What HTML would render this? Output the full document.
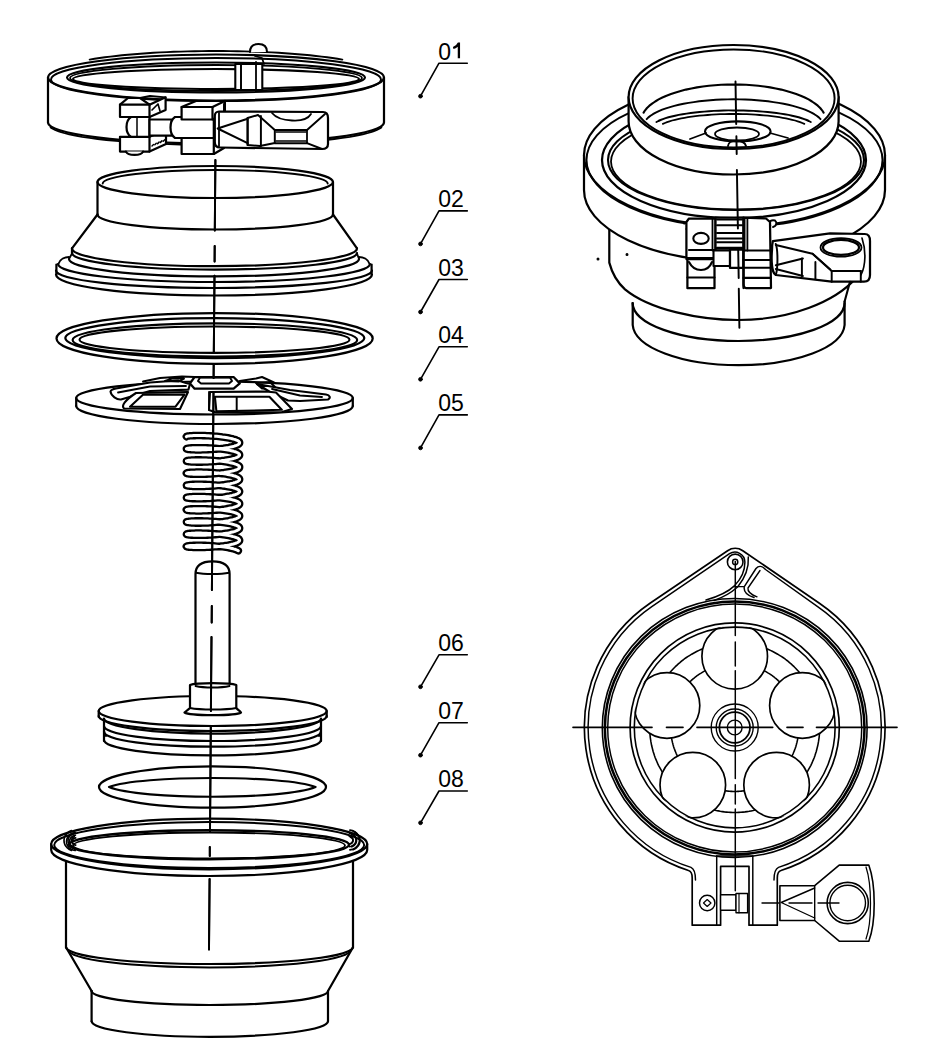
<!DOCTYPE html>
<html><head><meta charset="utf-8"><style>
html,body{margin:0;padding:0;background:#fff;}
svg{display:block;}
text{font-family:"Liberation Sans",sans-serif;fill:#000;stroke:none;}
</style></head><body>
<svg width="931" height="1060" viewBox="0 0 931 1060">
<rect width="931" height="1060" fill="#fff"/>
<g fill="none" stroke="#000" stroke-width="2.0" stroke-linejoin="round" stroke-linecap="round">
<text x="438.2" y="59.5" font-size="23">0</text>
<path d="M458.9,42.5 L458.9,58.3 M458.9,43.0 C457.5,46.5 455,47.5 453.2,48.0" fill="none" stroke-width="2.30" stroke-linecap="butt"/>
<path d="M420.5,96.2 L439.0,63.2 L467.3,63.2" fill="none" stroke-width="1.60" />
<circle cx="420.5" cy="96.2" r="1.9" fill="#000" stroke-width="0.80"/>
<text x="438.2" y="207.2" font-size="23">02</text>
<path d="M420.5,243.9 L439.0,210.9 L467.3,210.9" fill="none" stroke-width="1.60" />
<circle cx="420.5" cy="243.9" r="1.9" fill="#000" stroke-width="0.80"/>
<text x="438.2" y="275.8" font-size="23">03</text>
<path d="M420.5,312.0 L439.0,279.5 L467.3,279.5" fill="none" stroke-width="1.60" />
<circle cx="420.5" cy="312" r="1.9" fill="#000" stroke-width="0.80"/>
<text x="438.2" y="343.1" font-size="23">04</text>
<path d="M420.5,379.3 L439.0,346.8 L467.3,346.8" fill="none" stroke-width="1.60" />
<circle cx="420.5" cy="379.3" r="1.9" fill="#000" stroke-width="0.80"/>
<text x="438.2" y="411.2" font-size="23">05</text>
<path d="M420.5,447.9 L439.0,414.9 L467.3,414.9" fill="none" stroke-width="1.60" />
<circle cx="420.5" cy="447.9" r="1.9" fill="#000" stroke-width="0.80"/>
<text x="438.2" y="651.1" font-size="23">06</text>
<path d="M420.5,686.8 L439.0,654.8 L467.3,654.8" fill="none" stroke-width="1.60" />
<circle cx="420.5" cy="686.8" r="1.9" fill="#000" stroke-width="0.80"/>
<text x="438.2" y="719.0" font-size="23">07</text>
<path d="M420.5,755.2 L439.0,722.7 L467.3,722.7" fill="none" stroke-width="1.60" />
<circle cx="420.5" cy="755.2" r="1.9" fill="#000" stroke-width="0.80"/>
<text x="438.2" y="787.3" font-size="23">08</text>
<path d="M420.5,822.8 L439.0,791.0 L467.3,791.0" fill="none" stroke-width="1.60" />
<circle cx="420.5" cy="822.8" r="1.9" fill="#000" stroke-width="0.80"/>
<ellipse cx="216" cy="77.5" rx="168" ry="23" fill="#fff"  stroke-width="2.22"/>
<ellipse cx="216" cy="79.5" rx="165" ry="21.5" fill="none" stroke-width="1.95" />
<ellipse cx="216" cy="77.5" rx="149" ry="15" fill="none" stroke-width="2.10" />
<ellipse cx="216" cy="78" rx="146" ry="13" fill="none" stroke-width="1.80" />
<ellipse cx="216" cy="79" rx="143" ry="10" fill="none" stroke-width="2.10" />
<line x1="48" y1="77.5" x2="48" y2="122.6"  stroke-width="2.22"/>
<line x1="384" y1="77.5" x2="384" y2="122.6"  stroke-width="2.22"/>
<path d="M48,122.6 A168,21 0 0 0 384,122.6"  stroke-width="2.22"/>
<path d="M381.4,127.4 L379.3,128.8 L376.4,130.2 L372.6,131.6 L368.1,133.0 L362.8,134.3 L356.7,135.5 L349.9,136.8 L342.4,137.9 L334.3,139.0 L325.6,140.0 L316.3,140.9 L306.5,141.7 L296.2,142.5 L285.5,143.1 L274.5,143.7 L263.2,144.2 L251.6,144.5 L239.8,144.8 L227.9,144.9 L216.0,145.0 L204.1,144.9 L192.2,144.8 L180.4,144.5 L168.8,144.2 L157.5,143.7 L146.5,143.1 L135.8,142.5 L125.5,141.7 L115.7,140.9 L106.4,140.0 L97.7,139.0 L89.6,137.9 L82.1,136.8 L75.3,135.5 L69.2,134.3 L63.9,133.0 L59.4,131.6 L55.6,130.2 L52.7,128.8 L50.6,127.4" fill="none" stroke-width="1.80" />
<path d="M89.7,59.6 L94.5,58.8 L99.6,58.0 L104.9,57.3 L110.4,56.6 L116.1,56.0 L121.9,55.3 L127.9,54.8 L134.1,54.2 L140.4,53.7 L146.9,53.2 L153.4,52.8 L160.1,52.4 L166.9,52.1 L173.7,51.8 L180.7,51.6 L187.6,51.4 L194.7,51.2 L201.8,51.1 L208.9,51.0 L216.0,51.0 L223.1,51.0 L230.2,51.1 L237.3,51.2 L244.4,51.4 L251.3,51.6 L258.3,51.8 L265.1,52.1 L271.9,52.4 L278.6,52.8 L285.1,53.2 L291.6,53.7 L297.9,54.2 L304.1,54.8 L310.1,55.3 L315.9,56.0 L321.6,56.6 L327.1,57.3 L332.4,58.0 L337.5,58.8 L342.3,59.6" fill="none" stroke-width="1.95" />
<path d="M250,52 C250,46 254,44 258.5,44 C263,44 267,46 267,52" fill="#fff" stroke-width="2.10" />
<rect x="235.3" y="64" width="27" height="26" fill="#fff" stroke-width="2.10"/>
<line x1="241" y1="64" x2="241" y2="90" stroke-width="1.95" />
<line x1="256" y1="62" x2="256" y2="90" stroke-width="1.80" />
<path d="M255,56 L262,58 L264,64" fill="none" stroke-width="1.80" />
<path d="M120,136.8 L149.5,136.8 L166,130 L166,144 L149.5,151.6 L120,151.6 Z" fill="#fff"  stroke-width="2.22"/>
<line x1="149.5" y1="136.8" x2="149.5" y2="151.6"  stroke-width="2.22"/>
<path d="M126,151.6 C128,156 141,156 143,151.6" fill="#fff"  stroke-width="2.22"/>
<line x1="152.0" y1="146.0" x2="153.5" y2="144.5" stroke-width="1.50" />
<line x1="154.8" y1="144.8" x2="156.3" y2="143.3" stroke-width="1.50" />
<line x1="157.6" y1="143.6" x2="159.1" y2="142.1" stroke-width="1.50" />
<line x1="160.4" y1="142.4" x2="161.9" y2="140.9" stroke-width="1.50" />
<line x1="163.2" y1="141.2" x2="164.7" y2="139.7" stroke-width="1.50" />
<path d="M131,117 L149.5,117 L149.5,136.8 L131,136.8 C125,133 125,121 131,117 Z" fill="#fff"  stroke-width="2.22"/>
<line x1="137" y1="117" x2="137" y2="136.8" stroke-width="1.50" />
<rect x="149.5" y="119.5" width="22.3" height="16.1" fill="#fff" stroke-width="2.22"/>
<path d="M120,104.7 L128,98 L140,98 L149.5,104.7 L165.6,97.3 L165.6,110 L149.5,117 L120,117 Z" fill="#fff"  stroke-width="2.22"/>
<line x1="120" y1="104.7" x2="149.5" y2="104.7"  stroke-width="2.22"/>
<line x1="149.5" y1="104.7" x2="149.5" y2="117"  stroke-width="2.22"/>
<path d="M140,98 L150,96 L165.6,97.3" fill="none" stroke-width="1.80" />
<path d="M152,110 L158,104 L160,111" fill="none" stroke-width="1.65" />
<path d="M175,117 L213.8,117 L213.8,138 L175,138 C169,134 169,121 175,117 Z" fill="#fff"  stroke-width="2.22"/>
<path d="M181.6,107 L196,101 L224.9,101 L224.9,113 L212.5,119.5 L181.6,119.5 Z" fill="#fff"  stroke-width="2.22"/>
<line x1="181.6" y1="107" x2="212.5" y2="107"  stroke-width="2.22"/>
<line x1="212.5" y1="107" x2="224.9" y2="101"  stroke-width="2.22"/>
<line x1="212.5" y1="107" x2="212.5" y2="119.5"  stroke-width="2.22"/>
<path d="M181.6,138 L213.8,138 L224,134 L224,148 L213.8,154 L181.6,154 Z" fill="#fff"  stroke-width="2.22"/>
<line x1="213.8" y1="138" x2="213.8" y2="154"  stroke-width="2.22"/>
<path d="M224,104 L224,111" fill="none" stroke-width="1.95" />
<path d="M219,111.5 L323,112 C327,112 328,115 328,118 L328,144 C328,147 326,149 322,149 L220,147.5 C216.5,147.5 214.8,145 214.8,142 L214.8,116 C214.8,113.5 216.5,111.5 219,111.5 Z" fill="#fff"  stroke-width="2.22"/>
<path d="M217.6,128.5 L247.6,118.7 M217.6,128.5 L247.6,143.2" fill="none" stroke-width="1.95" />
<line x1="219" y1="113" x2="219" y2="146" stroke-width="1.80" />
<path d="M247.6,118 L258,115 L274.8,130 L274.8,143 L260,146 L247.6,145 Z" fill="none" stroke-width="1.95" />
<line x1="247.6" y1="118" x2="247.6" y2="145" stroke-width="1.95" />
<line x1="260.9" y1="116" x2="260.9" y2="146" stroke-width="1.95" />
<line x1="274.8" y1="130" x2="307" y2="130" stroke-width="1.95" />
<line x1="274.8" y1="143.2" x2="307" y2="143.2" stroke-width="1.95" />
<line x1="276" y1="132" x2="306" y2="132" stroke-width="1.50" />
<line x1="276" y1="141" x2="306" y2="141" stroke-width="1.50" />
<path d="M307,130 L325,114 M307,143.2 L322,149" fill="none" stroke-width="1.95" />
<line x1="307" y1="130" x2="307" y2="143.2" stroke-width="1.80" />
<path d="M272,113 C276,118 282,120 292,120.5 C300,121 308,119 311,114" fill="none" stroke-width="1.80" />
<ellipse cx="215.2" cy="182" rx="117.75" ry="16" fill="#fff"  stroke-width="2.22"/>
<path d="M102.69999999999999,183.5 A112.5,13.5 0 0 1 327.7,183.5" stroke-width="1.95" />
<line x1="97.5" y1="182" x2="97.5" y2="214.5"  stroke-width="2.22"/>
<line x1="333" y1="182" x2="333" y2="214.5"  stroke-width="2.22"/>
<path d="M97.44999999999999,214.5 A117.75,15 0 0 0 332.95,214.5"  stroke-width="2.22"/>
<line x1="97.5" y1="214.5" x2="72" y2="248.4"  stroke-width="2.22"/>
<line x1="333" y1="214.5" x2="357" y2="248.4"  stroke-width="2.22"/>
<path d="M72.0,248.4 A142.5,17.8 0 0 0 357.0,248.4"  stroke-width="2.22"/>
<path d="M72.0,253 A142.5,16.6 0 0 0 357.0,253"  stroke-width="2.22"/>
<line x1="72" y1="248.4" x2="72" y2="253"  stroke-width="2.22"/>
<path d="M69,259 A145,17.4 0 0 0 359,259"  stroke-width="2.22"/>
<line x1="69" y1="259" x2="72" y2="253.5" stroke-width="1.80" />
<line x1="359" y1="259" x2="357" y2="253.5" stroke-width="1.80" />
<path d="M58.4,264 C60,259 65,257 69,257" fill="none" stroke-width="1.95" />
<path d="M369.6,264 C368,259 363,257 359,257" fill="none" stroke-width="1.95" />
<path d="M58,264 A156,18 0 0 0 370,264"  stroke-width="2.22"/>
<path d="M56,270.6 A158,17.4 0 0 0 372,270.6"  stroke-width="2.22"/>
<line x1="56.4" y1="264.5" x2="56.4" y2="274.5"  stroke-width="2.22"/>
<line x1="371.6" y1="264.5" x2="371.6" y2="274.5"  stroke-width="2.22"/>
<path d="M56,274.5 A158,21 0 0 0 372,274.5"  stroke-width="2.22"/>
<ellipse cx="214.6" cy="338.45" rx="158.1" ry="25.45" fill="none" stroke-width="2.25" />
<ellipse cx="214.8" cy="338.1" rx="149.5" ry="19.9" fill="none" stroke-width="2.25" />
<ellipse cx="214.9" cy="339.95" rx="142.3" ry="16.55" fill="none" stroke-width="2.10" />
<ellipse cx="214.5" cy="339.7" rx="135" ry="13.2" fill="none" stroke-width="2.10" />
<ellipse cx="214.5" cy="398" rx="138.3" ry="16.5" fill="#fff"  stroke-width="2.22"/>
<line x1="76.2" y1="398" x2="76.2" y2="406"  stroke-width="2.22"/>
<line x1="352.8" y1="398" x2="352.8" y2="406"  stroke-width="2.22"/>
<path d="M76.19999999999999,406 A138.3,18 0 0 0 352.8,406"  stroke-width="2.22"/>
<path d="M110.5,391.5 C111,389.5 113,389 116,388.5 L150,382.5 L178,380.5 L186,383 L190,384 L188.4,389.6 L150,391 L121,399.5 C117,400 111,396 110.5,391.5 Z" fill="#fff" stroke-width="2.10" />
<path d="M118,392.5 L150,386.5 L186,386" fill="none" stroke-width="1.80" />
<path d="M143,381.5 L160,378 L182,376.5 L194.6,377 M165,381 L172,378.6 L184,378.6 L179,381.5 Z" fill="none" stroke-width="1.95" />
<path d="M136,393 L188,392 L180,409 L124,408.5 C121,406 125,400 136,393 Z" fill="#fff" stroke-width="2.10" />
<path d="M143.2,394.6 L184.5,394.6 L175.5,406.7 L130,406.7 Z" fill="none" stroke-width="2.10" />
<path d="M190,383.4 L194.6,377 L233.6,377 L239.8,383.4 L233.6,388.7 L194.6,388.7 Z" fill="#fff" stroke-width="2.25" />
<path d="M198,381 L200,377.5 L230,377.5 L232,381 L229,383.4 L201,383.4 Z" fill="none" stroke-width="1.95" />
<path d="M239.8,381 L256,378.5 L262,377 L274,382.5 M256,383 L270,382 L276,388 L262,388.5 Z" fill="none" stroke-width="1.95" />
<path d="M257,384 L290,390 L326,394.5 C330,395 331,398 328,399.5 L300,401 L288,400.5 L270,392 Z" fill="#fff" stroke-width="2.10" />
<path d="M272,389 L300,395.5 L322,397" fill="none" stroke-width="1.80" />
<path d="M210,392 L266,391.5 L276,392.5 L292,409 L282,412 L216,412.5 L209,410 Z" fill="#fff" stroke-width="2.10" />
<path d="M214.9,396.8 L269.4,396.8 L281.8,409.8 L216.4,411.4 Z" fill="none" stroke-width="2.10" />
<line x1="236.7" y1="397" x2="236.7" y2="411" stroke-width="1.95" />
<path d="M209,392 L209,410" fill="none" stroke-width="1.80" />
<path d="M186.4,436.6 L186.5,436.5 L186.7,436.4 L187.1,436.2 L187.6,436.1 L188.2,436.0 L189.0,435.9 L189.9,435.8 L191.0,435.7 L192.1,435.7 L193.4,435.6 L194.8,435.6 L196.3,435.5 L197.9,435.5 L199.5,435.5 L201.3,435.5 L203.1,435.6 L204.9,435.6 L206.8,435.7 L208.7,435.8 L210.7,435.9 L212.7,436.0 L214.6,436.2 L216.6,436.3 L218.6,436.5 L220.5,436.7 L222.3,437.0 L224.2,437.2 L225.9,437.5 L227.6,437.8 L229.2,438.1 L230.7,438.4 L232.2,438.7 L233.5,439.1 L234.7,439.4 L235.8,439.8 L236.7,440.2 L237.5,440.5 L238.2,440.9 L238.8,441.3 L239.2,441.7 L239.5,442.2 L239.6,442.6 L239.6,443.0 L239.4,443.4 L239.1,443.8 L238.6,444.2 L238.0,444.6 L237.3,445.0 L236.4,445.4 L235.4,445.7 L234.3,446.1 L233.0,446.5 L231.7,446.8 L230.2,447.1 L228.7,447.4 L227.0,447.7 L225.3,448.0 L223.5,448.3 L221.7,448.5 L219.8,448.7 L217.9,448.9 L215.9,449.1 L214.0,449.3 L212.0,449.4 L210.0,449.5 L208.1,449.6 L206.2,449.7 L204.3,449.8 L202.4,449.8 L200.6,449.9 L198.9,449.9 L197.3,449.9 L195.7,449.9 L194.3,449.8 L192.9,449.8 L191.7,449.7 L190.6,449.6 L189.6,449.5 L188.7,449.5 L188.0,449.3 L187.4,449.2 L186.9,449.1 L186.6,449.0 L186.4,448.9 L186.4,448.8 L186.5,448.6 L186.8,448.5 L187.2,448.4 L187.8,448.3 L188.5,448.2 L189.3,448.1 L190.3,448.0 L191.3,447.9 L192.5,447.8 L193.9,447.8 L195.3,447.7 L196.8,447.7 L198.4,447.7 L200.1,447.7 L201.9,447.7 L203.7,447.8 L205.6,447.8 L207.5,447.9 L209.4,448.0 L211.4,448.1 L213.4,448.3 L215.3,448.4 L217.3,448.6 L219.2,448.8 L221.1,449.0 L223.0,449.3 L224.8,449.5 L226.5,449.8 L228.2,450.1 L229.8,450.4 L231.2,450.7 L232.6,451.0 L233.9,451.4 L235.1,451.7 L236.1,452.1 L237.0,452.5 L237.8,452.9 L238.4,453.3 L239.0,453.7 L239.3,454.1 L239.5,454.5 L239.6,454.9 L239.5,455.3 L239.3,455.7 L238.9,456.1 L238.4,456.5 L237.8,456.9 L237.0,457.3 L236.1,457.7 L235.0,458.1 L233.9,458.4 L232.6,458.8 L231.2,459.1 L229.7,459.4 L228.1,459.7 L226.5,460.0 L224.7,460.3 L222.9,460.5 L221.1,460.8 L219.2,461.0 L217.2,461.2 L215.3,461.4 L213.3,461.5 L211.3,461.7 L209.4,461.8 L207.4,461.9 L205.5,462.0 L203.6,462.0 L201.8,462.1 L200.0,462.1 L198.4,462.1 L196.8,462.1 L195.2,462.0 L193.8,462.0 L192.5,462.0 L191.3,461.9 L190.2,461.8 L189.3,461.7 L188.4,461.6 L187.8,461.5 L187.2,461.4 L186.8,461.3 L186.5,461.2 L186.4,461.0 L186.4,460.9 L186.6,460.8 L186.9,460.7 L187.4,460.6 L188.0,460.4 L188.7,460.3 L189.6,460.2 L190.6,460.2 L191.7,460.1 L193.0,460.0 L194.3,460.0 L195.8,459.9 L197.3,459.9 L199.0,459.9 L200.7,459.9 L202.5,460.0 L204.3,460.0 L206.2,460.1 L208.1,460.2 L210.1,460.3 L212.1,460.4 L214.0,460.5 L216.0,460.7 L218.0,460.9 L219.9,461.1 L221.8,461.3 L223.6,461.5 L225.4,461.8 L227.1,462.1 L228.7,462.4 L230.3,462.7 L231.7,463.0 L233.1,463.3 L234.3,463.7 L235.4,464.1 L236.4,464.4 L237.3,464.8 L238.0,465.2 L238.6,465.6 L239.1,466.0 L239.4,466.4 L239.6,466.8 L239.6,467.2 L239.5,467.7 L239.2,468.1 L238.8,468.5 L238.2,468.9 L237.5,469.3 L236.7,469.7 L235.7,470.0 L234.6,470.4 L233.4,470.8 L232.1,471.1 L230.7,471.4 L229.2,471.7 L227.6,472.0 L225.9,472.3 L224.1,472.6 L222.3,472.8 L220.4,473.1 L218.5,473.3 L216.6,473.5 L214.6,473.6 L212.6,473.8 L210.6,473.9 L208.7,474.0 L206.7,474.1 L204.8,474.2 L203.0,474.2 L201.2,474.3 L199.5,474.3 L197.8,474.3 L196.2,474.3 L194.7,474.2 L193.4,474.2 L192.1,474.1 L190.9,474.1 L189.9,474.0 L189.0,473.9 L188.2,473.8 L187.5,473.7 L187.0,473.6 L186.7,473.4 L186.5,473.3 L186.4,473.2 L186.5,473.1 L186.7,473.0 L187.1,472.8 L187.6,472.7 L188.2,472.6 L189.0,472.5 L189.9,472.4 L191.0,472.3 L192.2,472.3 L193.4,472.2 L194.8,472.2 L196.3,472.1 L197.9,472.1 L199.6,472.1 L201.3,472.1 L203.1,472.2 L205.0,472.2 L206.9,472.3 L208.8,472.4 L210.8,472.5 L212.7,472.6 L214.7,472.8 L216.7,473.0 L218.6,473.1 L220.5,473.4 L222.4,473.6 L224.2,473.8 L226.0,474.1 L227.7,474.4 L229.3,474.7 L230.8,475.0 L232.2,475.3 L233.5,475.7 L234.7,476.0 L235.8,476.4 L236.7,476.8 L237.6,477.2 L238.3,477.6 L238.8,478.0 L239.2,478.4 L239.5,478.8 L239.6,479.2 L239.6,479.6 L239.4,480.0 L239.1,480.4 L238.6,480.8 L238.0,481.2 L237.3,481.6 L236.4,482.0 L235.4,482.4 L234.2,482.7 L233.0,483.1 L231.6,483.4 L230.2,483.7 L228.6,484.0 L227.0,484.3 L225.3,484.6 L223.5,484.9 L221.6,485.1 L219.8,485.3 L217.8,485.5 L215.9,485.7 L213.9,485.9 L211.9,486.0 L210.0,486.1 L208.0,486.3 L206.1,486.3 L204.2,486.4 L202.4,486.4 L200.6,486.5 L198.9,486.5 L197.2,486.5 L195.7,486.5 L194.3,486.4 L192.9,486.4 L191.7,486.3 L190.5,486.2 L189.6,486.1 L188.7,486.0 L188.0,485.9 L187.4,485.8 L186.9,485.7 L186.6,485.6 L186.4,485.5 L186.4,485.4 L186.5,485.2 L186.8,485.1 L187.2,485.0 L187.8,484.9 L188.5,484.8 L189.3,484.7 L190.3,484.6 L191.4,484.5 L192.6,484.4 L193.9,484.4 L195.3,484.3 L196.9,484.3 L198.5,484.3 L200.2,484.3 L201.9,484.3 L203.7,484.4 L205.6,484.4 L207.5,484.5 L209.5,484.6 L211.4,484.7 L213.4,484.9 L215.4,485.0 L217.3,485.2 L219.3,485.4 L221.2,485.6 L223.0,485.9 L224.8,486.1 L226.6,486.4 L228.2,486.7 L229.8,487.0 L231.3,487.3 L232.7,487.6 L233.9,488.0 L235.1,488.4 L236.1,488.7 L237.0,489.1 L237.8,489.5 L238.5,489.9 L239.0,490.3 L239.3,490.7 L239.5,491.1 L239.6,491.5 L239.5,491.9 L239.3,492.3 L238.9,492.7 L238.4,493.1 L237.8,493.5 L237.0,493.9 L236.0,494.3 L235.0,494.7 L233.8,495.0 L232.5,495.4 L231.1,495.7 L229.7,496.0 L228.1,496.3 L226.4,496.6 L224.7,496.9 L222.9,497.2 L221.0,497.4 L219.1,497.6 L217.2,497.8 L215.2,498.0 L213.2,498.1 L211.3,498.3 L209.3,498.4 L207.4,498.5 L205.4,498.6 L203.6,498.6 L201.7,498.7 L200.0,498.7 L198.3,498.7 L196.7,498.7 L195.2,498.6 L193.8,498.6 L192.5,498.6 L191.3,498.5 L190.2,498.4 L189.2,498.3 L188.4,498.2 L187.7,498.1 L187.2,498.0 L186.8,497.9 L186.5,497.8 L186.4,497.6 L186.4,497.5 L186.6,497.4 L186.9,497.3 L187.4,497.2 L188.0,497.0 L188.8,496.9 L189.6,496.8 L190.6,496.8 L191.8,496.7 L193.0,496.6 L194.4,496.6 L195.8,496.5 L197.4,496.5 L199.0,496.5 L200.8,496.5 L202.5,496.6 L204.4,496.6 L206.3,496.7 L208.2,496.8 L210.2,496.9 L212.1,497.0 L214.1,497.1 L216.1,497.3 L218.0,497.5 L219.9,497.7 L221.8,497.9 L223.7,498.2 L225.4,498.4 L227.1,498.7 L228.8,499.0 L230.3,499.3 L231.8,499.6 L233.1,500.0 L234.4,500.3 L235.5,500.7 L236.5,501.1 L237.3,501.4 L238.1,501.8 L238.7,502.2 L239.1,502.6 L239.4,503.0 L239.6,503.4 L239.6,503.9 L239.5,504.3 L239.2,504.7 L238.8,505.1 L238.2,505.5 L237.5,505.9 L236.7,506.3 L235.7,506.6 L234.6,507.0 L233.4,507.4 L232.1,507.7 L230.6,508.0 L229.1,508.3 L227.5,508.6 L225.8,508.9 L224.1,509.2 L222.2,509.4 L220.4,509.7 L218.4,509.9 L216.5,510.1 L214.5,510.2 L212.6,510.4 L210.6,510.5 L208.6,510.6 L206.7,510.7 L204.8,510.8 L202.9,510.8 L201.1,510.9 L199.4,510.9 L197.7,510.9 L196.2,510.9 L194.7,510.8 L193.3,510.8 L192.0,510.7 L190.9,510.7 L189.8,510.6 L188.9,510.5 L188.2,510.4 L187.5,510.3 L187.0,510.2 L186.7,510.0 L186.5,509.9 L186.4,509.8 L186.5,509.7 L186.7,509.5 L187.1,509.4 L187.6,509.3 L188.3,509.2 L189.0,509.1 L190.0,509.0 L191.0,508.9 L192.2,508.9 L193.5,508.8 L194.9,508.8 L196.4,508.7 L198.0,508.7 L199.6,508.7 L201.4,508.7 L203.2,508.8 L205.0,508.8 L206.9,508.9 L208.9,509.0 L210.8,509.1 L212.8,509.2 L214.8,509.4 L216.7,509.6 L218.7,509.8 L220.6,510.0 L222.5,510.2 L224.3,510.4 L226.0,510.7 L227.7,511.0 L229.3,511.3 L230.8,511.6 L232.2,511.9 L233.6,512.3 L234.8,512.6 L235.8,513.0 L236.8,513.4 L237.6,513.8 L238.3,514.2 L238.8,514.6 L239.2,515.0 L239.5,515.4 L239.6,515.8 L239.6,516.2 L239.4,516.6 L239.1,517.0 L238.6,517.4 L238.0,517.8 L237.2,518.2 L236.3,518.6 L235.3,519.0 L234.2,519.3 L233.0,519.7 L231.6,520.0 L230.1,520.3 L228.6,520.7 L226.9,520.9 L225.2,521.2 L223.4,521.5 L221.6,521.7 L219.7,521.9 L217.8,522.1 L215.8,522.3 L213.8,522.5 L211.9,522.6 L209.9,522.8 L208.0,522.9 L206.0,522.9 L204.1,523.0 L202.3,523.0 L200.5,523.1 L198.8,523.1 L197.2,523.1 L195.7,523.1 L194.2,523.0 L192.9,523.0 L191.6,522.9 L190.5,522.8 L189.5,522.7 L188.7,522.6 L187.9,522.5 L187.3,522.4 L186.9,522.3 L186.6,522.2 L186.4,522.1 L186.4,521.9 L186.5,521.8 L186.8,521.7 L187.2,521.6 L187.8,521.5 L188.5,521.4 L189.4,521.3 L190.3,521.2 L191.4,521.1 L192.6,521.0 L193.9,521.0 L195.4,520.9 L196.9,520.9 L198.5,520.9 L200.2,520.9 L202.0,520.9 L203.8,521.0 L205.7,521.0 L207.6,521.1 L209.5,521.2 L211.5,521.3 L213.5,521.5 L215.5,521.6 L217.4,521.8 L219.3,522.0 L221.2,522.2 L223.1,522.5 L224.9,522.7 L226.6,523.0 L228.3,523.3 L229.9,523.6 L231.3,523.9 L232.7,524.3 L234.0,524.6 L235.1,525.0 L236.2,525.3 L237.1,525.7 L237.8,526.1 L238.5,526.5 L239.0,526.9 L239.3,527.3 L239.5,527.7 L239.6,528.1 L239.5,528.5 L239.3,529.0 L238.9,529.4 L238.4,529.8 L237.7,530.2 L236.9,530.5 L236.0,530.9 L235.0,531.3 L233.8,531.7 L232.5,532.0 L231.1,532.3 L229.6,532.7 L228.0,533.0 L226.4,533.2 L224.6,533.5 L222.8,533.8 L220.9,534.0 L219.0,534.2 L217.1,534.4 L215.1,534.6 L213.2,534.7 L211.2,534.9 L209.2,535.0 L207.3,535.1 L205.4,535.2 L203.5,535.2 L201.7,535.3 L199.9,535.3 L198.3,535.3 L196.7,535.3 L195.1,535.2 L193.7,535.2 L192.4,535.1 L191.2,535.1 L190.2,535.0 L189.2,534.9 L188.4,534.8 L187.7,534.7 L187.2,534.6 L186.8,534.5 L186.5,534.4 L186.4,534.2 L186.4,534.1 L186.6,534.0 L187.0,533.9 L187.4,533.8 L188.0,533.6 L188.8,533.5 L189.7,533.4 L190.7,533.4 L191.8,533.3 L193.1,533.2 L194.4,533.2 L195.9,533.1 L197.4,533.1 L199.1,533.1 L200.8,533.1 L202.6,533.2 L204.4,533.2 L206.3,533.3 L208.3,533.4 L210.2,533.5 L212.2,533.6 L214.2,533.7 L216.1,533.9 L218.1,534.1 L220.0,534.3 L221.9,534.5 L223.7,534.8 L225.5,535.0 L227.2,535.3 L228.8,535.6 L230.4,535.9 L231.8,536.2 L233.2,536.6 L234.4,536.9 L235.5,537.3 L236.5,537.7 L237.4,538.0 L238.1,538.4 L238.7,538.8 L239.1,539.2 L239.4,539.7 L239.6,540.1 L239.6,540.5 L239.5,540.9 L239.2,541.3 L238.7,541.7 L238.2,542.1 L237.5,542.5 L236.6,542.9 L235.7,543.3 L234.6,543.6 L233.4,544.0 L232.0,544.3 L230.6,544.6 L229.1,545.0 L227.5,545.3 L225.8,545.5 L224.0,545.8 L222.2,546.0 L220.3,546.3 L218.4,546.5 L216.4,546.7 L214.5,546.8 L212.5,547.0 L210.5,547.1 L208.6,547.2 L206.6,547.3 L204.7,547.4 L202.9,547.4 L201.1,547.5 L199.4,547.5 L197.7,547.5 L196.1,547.5 L194.6,547.4 L193.3,547.4 L192.0,547.3 L190.8,547.3 L189.8,547.2 L188.9,547.1 L188.1,547.0 L187.5,546.9 L187.0,546.8 L186.7,546.6 L186.5,546.5 L186.4,546.4 L186.5,546.3 L186.7,546.1 L187.1,546.0 L187.6,545.9 L188.3,545.8 L189.1,545.7 L190.0,545.6 L191.1,545.5 L192.2,545.5 L193.5,545.4 L194.9,545.4 L196.4,545.3 L198.0,545.3 L199.7,545.3 L201.4,545.3 L203.2,545.4 L205.1,545.4 L207.0,545.5 L208.9,545.6 L210.9,545.7 L212.9,545.8 L214.8,546.0 L216.8,546.2 L218.7,546.4 L220.7,546.6 L222.5,546.8 L224.3,547.0 L226.1,547.3 L227.8,547.6 L229.4,547.9 L230.9,548.2 L232.3,548.5 L233.6,548.9 L234.8,549.2 L235.9,549.6 L236.8,550.0 L237.6,550.4 L238.3,550.8" style="stroke-width:7.6px;stroke:#000"/>
<path d="M186.4,436.6 L186.5,436.5 L186.7,436.4 L187.1,436.2 L187.6,436.1 L188.2,436.0 L189.0,435.9 L189.9,435.8 L191.0,435.7 L192.1,435.7 L193.4,435.6 L194.8,435.6 L196.3,435.5 L197.9,435.5 L199.5,435.5 L201.3,435.5 L203.1,435.6 L204.9,435.6 L206.8,435.7 L208.7,435.8 L210.7,435.9 L212.7,436.0 L214.6,436.2 L216.6,436.3 L218.6,436.5 L220.5,436.7 L222.3,437.0 L224.2,437.2 L225.9,437.5 L227.6,437.8 L229.2,438.1 L230.7,438.4 L232.2,438.7 L233.5,439.1 L234.7,439.4 L235.8,439.8 L236.7,440.2 L237.5,440.5 L238.2,440.9 L238.8,441.3 L239.2,441.7 L239.5,442.2 L239.6,442.6 L239.6,443.0 L239.4,443.4 L239.1,443.8 L238.6,444.2 L238.0,444.6 L237.3,445.0 L236.4,445.4 L235.4,445.7 L234.3,446.1 L233.0,446.5 L231.7,446.8 L230.2,447.1 L228.7,447.4 L227.0,447.7 L225.3,448.0 L223.5,448.3 L221.7,448.5 L219.8,448.7 L217.9,448.9 L215.9,449.1 L214.0,449.3 L212.0,449.4 L210.0,449.5 L208.1,449.6 L206.2,449.7 L204.3,449.8 L202.4,449.8 L200.6,449.9 L198.9,449.9 L197.3,449.9 L195.7,449.9 L194.3,449.8 L192.9,449.8 L191.7,449.7 L190.6,449.6 L189.6,449.5 L188.7,449.5 L188.0,449.3 L187.4,449.2 L186.9,449.1 L186.6,449.0 L186.4,448.9 L186.4,448.8 L186.5,448.6 L186.8,448.5 L187.2,448.4 L187.8,448.3 L188.5,448.2 L189.3,448.1 L190.3,448.0 L191.3,447.9 L192.5,447.8 L193.9,447.8 L195.3,447.7 L196.8,447.7 L198.4,447.7 L200.1,447.7 L201.9,447.7 L203.7,447.8 L205.6,447.8 L207.5,447.9 L209.4,448.0 L211.4,448.1 L213.4,448.3 L215.3,448.4 L217.3,448.6 L219.2,448.8 L221.1,449.0 L223.0,449.3 L224.8,449.5 L226.5,449.8 L228.2,450.1 L229.8,450.4 L231.2,450.7 L232.6,451.0 L233.9,451.4 L235.1,451.7 L236.1,452.1 L237.0,452.5 L237.8,452.9 L238.4,453.3 L239.0,453.7 L239.3,454.1 L239.5,454.5 L239.6,454.9 L239.5,455.3 L239.3,455.7 L238.9,456.1 L238.4,456.5 L237.8,456.9 L237.0,457.3 L236.1,457.7 L235.0,458.1 L233.9,458.4 L232.6,458.8 L231.2,459.1 L229.7,459.4 L228.1,459.7 L226.5,460.0 L224.7,460.3 L222.9,460.5 L221.1,460.8 L219.2,461.0 L217.2,461.2 L215.3,461.4 L213.3,461.5 L211.3,461.7 L209.4,461.8 L207.4,461.9 L205.5,462.0 L203.6,462.0 L201.8,462.1 L200.0,462.1 L198.4,462.1 L196.8,462.1 L195.2,462.0 L193.8,462.0 L192.5,462.0 L191.3,461.9 L190.2,461.8 L189.3,461.7 L188.4,461.6 L187.8,461.5 L187.2,461.4 L186.8,461.3 L186.5,461.2 L186.4,461.0 L186.4,460.9 L186.6,460.8 L186.9,460.7 L187.4,460.6 L188.0,460.4 L188.7,460.3 L189.6,460.2 L190.6,460.2 L191.7,460.1 L193.0,460.0 L194.3,460.0 L195.8,459.9 L197.3,459.9 L199.0,459.9 L200.7,459.9 L202.5,460.0 L204.3,460.0 L206.2,460.1 L208.1,460.2 L210.1,460.3 L212.1,460.4 L214.0,460.5 L216.0,460.7 L218.0,460.9 L219.9,461.1 L221.8,461.3 L223.6,461.5 L225.4,461.8 L227.1,462.1 L228.7,462.4 L230.3,462.7 L231.7,463.0 L233.1,463.3 L234.3,463.7 L235.4,464.1 L236.4,464.4 L237.3,464.8 L238.0,465.2 L238.6,465.6 L239.1,466.0 L239.4,466.4 L239.6,466.8 L239.6,467.2 L239.5,467.7 L239.2,468.1 L238.8,468.5 L238.2,468.9 L237.5,469.3 L236.7,469.7 L235.7,470.0 L234.6,470.4 L233.4,470.8 L232.1,471.1 L230.7,471.4 L229.2,471.7 L227.6,472.0 L225.9,472.3 L224.1,472.6 L222.3,472.8 L220.4,473.1 L218.5,473.3 L216.6,473.5 L214.6,473.6 L212.6,473.8 L210.6,473.9 L208.7,474.0 L206.7,474.1 L204.8,474.2 L203.0,474.2 L201.2,474.3 L199.5,474.3 L197.8,474.3 L196.2,474.3 L194.7,474.2 L193.4,474.2 L192.1,474.1 L190.9,474.1 L189.9,474.0 L189.0,473.9 L188.2,473.8 L187.5,473.7 L187.0,473.6 L186.7,473.4 L186.5,473.3 L186.4,473.2 L186.5,473.1 L186.7,473.0 L187.1,472.8 L187.6,472.7 L188.2,472.6 L189.0,472.5 L189.9,472.4 L191.0,472.3 L192.2,472.3 L193.4,472.2 L194.8,472.2 L196.3,472.1 L197.9,472.1 L199.6,472.1 L201.3,472.1 L203.1,472.2 L205.0,472.2 L206.9,472.3 L208.8,472.4 L210.8,472.5 L212.7,472.6 L214.7,472.8 L216.7,473.0 L218.6,473.1 L220.5,473.4 L222.4,473.6 L224.2,473.8 L226.0,474.1 L227.7,474.4 L229.3,474.7 L230.8,475.0 L232.2,475.3 L233.5,475.7 L234.7,476.0 L235.8,476.4 L236.7,476.8 L237.6,477.2 L238.3,477.6 L238.8,478.0 L239.2,478.4 L239.5,478.8 L239.6,479.2 L239.6,479.6 L239.4,480.0 L239.1,480.4 L238.6,480.8 L238.0,481.2 L237.3,481.6 L236.4,482.0 L235.4,482.4 L234.2,482.7 L233.0,483.1 L231.6,483.4 L230.2,483.7 L228.6,484.0 L227.0,484.3 L225.3,484.6 L223.5,484.9 L221.6,485.1 L219.8,485.3 L217.8,485.5 L215.9,485.7 L213.9,485.9 L211.9,486.0 L210.0,486.1 L208.0,486.3 L206.1,486.3 L204.2,486.4 L202.4,486.4 L200.6,486.5 L198.9,486.5 L197.2,486.5 L195.7,486.5 L194.3,486.4 L192.9,486.4 L191.7,486.3 L190.5,486.2 L189.6,486.1 L188.7,486.0 L188.0,485.9 L187.4,485.8 L186.9,485.7 L186.6,485.6 L186.4,485.5 L186.4,485.4 L186.5,485.2 L186.8,485.1 L187.2,485.0 L187.8,484.9 L188.5,484.8 L189.3,484.7 L190.3,484.6 L191.4,484.5 L192.6,484.4 L193.9,484.4 L195.3,484.3 L196.9,484.3 L198.5,484.3 L200.2,484.3 L201.9,484.3 L203.7,484.4 L205.6,484.4 L207.5,484.5 L209.5,484.6 L211.4,484.7 L213.4,484.9 L215.4,485.0 L217.3,485.2 L219.3,485.4 L221.2,485.6 L223.0,485.9 L224.8,486.1 L226.6,486.4 L228.2,486.7 L229.8,487.0 L231.3,487.3 L232.7,487.6 L233.9,488.0 L235.1,488.4 L236.1,488.7 L237.0,489.1 L237.8,489.5 L238.5,489.9 L239.0,490.3 L239.3,490.7 L239.5,491.1 L239.6,491.5 L239.5,491.9 L239.3,492.3 L238.9,492.7 L238.4,493.1 L237.8,493.5 L237.0,493.9 L236.0,494.3 L235.0,494.7 L233.8,495.0 L232.5,495.4 L231.1,495.7 L229.7,496.0 L228.1,496.3 L226.4,496.6 L224.7,496.9 L222.9,497.2 L221.0,497.4 L219.1,497.6 L217.2,497.8 L215.2,498.0 L213.2,498.1 L211.3,498.3 L209.3,498.4 L207.4,498.5 L205.4,498.6 L203.6,498.6 L201.7,498.7 L200.0,498.7 L198.3,498.7 L196.7,498.7 L195.2,498.6 L193.8,498.6 L192.5,498.6 L191.3,498.5 L190.2,498.4 L189.2,498.3 L188.4,498.2 L187.7,498.1 L187.2,498.0 L186.8,497.9 L186.5,497.8 L186.4,497.6 L186.4,497.5 L186.6,497.4 L186.9,497.3 L187.4,497.2 L188.0,497.0 L188.8,496.9 L189.6,496.8 L190.6,496.8 L191.8,496.7 L193.0,496.6 L194.4,496.6 L195.8,496.5 L197.4,496.5 L199.0,496.5 L200.8,496.5 L202.5,496.6 L204.4,496.6 L206.3,496.7 L208.2,496.8 L210.2,496.9 L212.1,497.0 L214.1,497.1 L216.1,497.3 L218.0,497.5 L219.9,497.7 L221.8,497.9 L223.7,498.2 L225.4,498.4 L227.1,498.7 L228.8,499.0 L230.3,499.3 L231.8,499.6 L233.1,500.0 L234.4,500.3 L235.5,500.7 L236.5,501.1 L237.3,501.4 L238.1,501.8 L238.7,502.2 L239.1,502.6 L239.4,503.0 L239.6,503.4 L239.6,503.9 L239.5,504.3 L239.2,504.7 L238.8,505.1 L238.2,505.5 L237.5,505.9 L236.7,506.3 L235.7,506.6 L234.6,507.0 L233.4,507.4 L232.1,507.7 L230.6,508.0 L229.1,508.3 L227.5,508.6 L225.8,508.9 L224.1,509.2 L222.2,509.4 L220.4,509.7 L218.4,509.9 L216.5,510.1 L214.5,510.2 L212.6,510.4 L210.6,510.5 L208.6,510.6 L206.7,510.7 L204.8,510.8 L202.9,510.8 L201.1,510.9 L199.4,510.9 L197.7,510.9 L196.2,510.9 L194.7,510.8 L193.3,510.8 L192.0,510.7 L190.9,510.7 L189.8,510.6 L188.9,510.5 L188.2,510.4 L187.5,510.3 L187.0,510.2 L186.7,510.0 L186.5,509.9 L186.4,509.8 L186.5,509.7 L186.7,509.5 L187.1,509.4 L187.6,509.3 L188.3,509.2 L189.0,509.1 L190.0,509.0 L191.0,508.9 L192.2,508.9 L193.5,508.8 L194.9,508.8 L196.4,508.7 L198.0,508.7 L199.6,508.7 L201.4,508.7 L203.2,508.8 L205.0,508.8 L206.9,508.9 L208.9,509.0 L210.8,509.1 L212.8,509.2 L214.8,509.4 L216.7,509.6 L218.7,509.8 L220.6,510.0 L222.5,510.2 L224.3,510.4 L226.0,510.7 L227.7,511.0 L229.3,511.3 L230.8,511.6 L232.2,511.9 L233.6,512.3 L234.8,512.6 L235.8,513.0 L236.8,513.4 L237.6,513.8 L238.3,514.2 L238.8,514.6 L239.2,515.0 L239.5,515.4 L239.6,515.8 L239.6,516.2 L239.4,516.6 L239.1,517.0 L238.6,517.4 L238.0,517.8 L237.2,518.2 L236.3,518.6 L235.3,519.0 L234.2,519.3 L233.0,519.7 L231.6,520.0 L230.1,520.3 L228.6,520.7 L226.9,520.9 L225.2,521.2 L223.4,521.5 L221.6,521.7 L219.7,521.9 L217.8,522.1 L215.8,522.3 L213.8,522.5 L211.9,522.6 L209.9,522.8 L208.0,522.9 L206.0,522.9 L204.1,523.0 L202.3,523.0 L200.5,523.1 L198.8,523.1 L197.2,523.1 L195.7,523.1 L194.2,523.0 L192.9,523.0 L191.6,522.9 L190.5,522.8 L189.5,522.7 L188.7,522.6 L187.9,522.5 L187.3,522.4 L186.9,522.3 L186.6,522.2 L186.4,522.1 L186.4,521.9 L186.5,521.8 L186.8,521.7 L187.2,521.6 L187.8,521.5 L188.5,521.4 L189.4,521.3 L190.3,521.2 L191.4,521.1 L192.6,521.0 L193.9,521.0 L195.4,520.9 L196.9,520.9 L198.5,520.9 L200.2,520.9 L202.0,520.9 L203.8,521.0 L205.7,521.0 L207.6,521.1 L209.5,521.2 L211.5,521.3 L213.5,521.5 L215.5,521.6 L217.4,521.8 L219.3,522.0 L221.2,522.2 L223.1,522.5 L224.9,522.7 L226.6,523.0 L228.3,523.3 L229.9,523.6 L231.3,523.9 L232.7,524.3 L234.0,524.6 L235.1,525.0 L236.2,525.3 L237.1,525.7 L237.8,526.1 L238.5,526.5 L239.0,526.9 L239.3,527.3 L239.5,527.7 L239.6,528.1 L239.5,528.5 L239.3,529.0 L238.9,529.4 L238.4,529.8 L237.7,530.2 L236.9,530.5 L236.0,530.9 L235.0,531.3 L233.8,531.7 L232.5,532.0 L231.1,532.3 L229.6,532.7 L228.0,533.0 L226.4,533.2 L224.6,533.5 L222.8,533.8 L220.9,534.0 L219.0,534.2 L217.1,534.4 L215.1,534.6 L213.2,534.7 L211.2,534.9 L209.2,535.0 L207.3,535.1 L205.4,535.2 L203.5,535.2 L201.7,535.3 L199.9,535.3 L198.3,535.3 L196.7,535.3 L195.1,535.2 L193.7,535.2 L192.4,535.1 L191.2,535.1 L190.2,535.0 L189.2,534.9 L188.4,534.8 L187.7,534.7 L187.2,534.6 L186.8,534.5 L186.5,534.4 L186.4,534.2 L186.4,534.1 L186.6,534.0 L187.0,533.9 L187.4,533.8 L188.0,533.6 L188.8,533.5 L189.7,533.4 L190.7,533.4 L191.8,533.3 L193.1,533.2 L194.4,533.2 L195.9,533.1 L197.4,533.1 L199.1,533.1 L200.8,533.1 L202.6,533.2 L204.4,533.2 L206.3,533.3 L208.3,533.4 L210.2,533.5 L212.2,533.6 L214.2,533.7 L216.1,533.9 L218.1,534.1 L220.0,534.3 L221.9,534.5 L223.7,534.8 L225.5,535.0 L227.2,535.3 L228.8,535.6 L230.4,535.9 L231.8,536.2 L233.2,536.6 L234.4,536.9 L235.5,537.3 L236.5,537.7 L237.4,538.0 L238.1,538.4 L238.7,538.8 L239.1,539.2 L239.4,539.7 L239.6,540.1 L239.6,540.5 L239.5,540.9 L239.2,541.3 L238.7,541.7 L238.2,542.1 L237.5,542.5 L236.6,542.9 L235.7,543.3 L234.6,543.6 L233.4,544.0 L232.0,544.3 L230.6,544.6 L229.1,545.0 L227.5,545.3 L225.8,545.5 L224.0,545.8 L222.2,546.0 L220.3,546.3 L218.4,546.5 L216.4,546.7 L214.5,546.8 L212.5,547.0 L210.5,547.1 L208.6,547.2 L206.6,547.3 L204.7,547.4 L202.9,547.4 L201.1,547.5 L199.4,547.5 L197.7,547.5 L196.1,547.5 L194.6,547.4 L193.3,547.4 L192.0,547.3 L190.8,547.3 L189.8,547.2 L188.9,547.1 L188.1,547.0 L187.5,546.9 L187.0,546.8 L186.7,546.6 L186.5,546.5 L186.4,546.4 L186.5,546.3 L186.7,546.1 L187.1,546.0 L187.6,545.9 L188.3,545.8 L189.1,545.7 L190.0,545.6 L191.1,545.5 L192.2,545.5 L193.5,545.4 L194.9,545.4 L196.4,545.3 L198.0,545.3 L199.7,545.3 L201.4,545.3 L203.2,545.4 L205.1,545.4 L207.0,545.5 L208.9,545.6 L210.9,545.7 L212.9,545.8 L214.8,546.0 L216.8,546.2 L218.7,546.4 L220.7,546.6 L222.5,546.8 L224.3,547.0 L226.1,547.3 L227.8,547.6 L229.4,547.9 L230.9,548.2 L232.3,548.5 L233.6,548.9 L234.8,549.2 L235.9,549.6 L236.8,550.0 L237.6,550.4 L238.3,550.8" style="stroke-width:3.0px;stroke:#fff"/>
<path d="M195.5,686 L195.5,574 C195.5,566 201,561.3 212.5,561.3 C224,561.3 229.6,566 229.6,574 L229.6,686" fill="#fff"  stroke-width="2.22"/>
<path d="M196,572.8 C204,574.5 221,574.5 229,572.8" fill="none" stroke-width="1.95" />
<line x1="104" y1="719" x2="104" y2="741"  stroke-width="2.22"/>
<line x1="321" y1="719" x2="321" y2="741"  stroke-width="2.22"/>
<path d="M104.0,718.6 A108.5,15 0 0 0 321.0,718.6"  stroke-width="2.22"/>
<path d="M104.0,726 A108.5,15 0 0 0 321.0,726"  stroke-width="2.22"/>
<path d="M104,729 C104,734 105,735 106,736" fill="none" stroke-width="1.80" />
<path d="M321,729 C321,734 320,735 319,736" fill="none" stroke-width="1.80" />
<path d="M104.0,731.7 A108.5,15 0 0 0 321.0,731.7"  stroke-width="2.22"/>
<path d="M104.0,740 A108.5,15.4 0 0 0 321.0,740"  stroke-width="2.22"/>
<ellipse cx="212.7" cy="711" rx="114" ry="15" fill="#fff"  stroke-width="2.22"/>
<line x1="98.7" y1="711" x2="98.7" y2="717"  stroke-width="2.22"/>
<line x1="326.7" y1="711" x2="326.7" y2="717"  stroke-width="2.22"/>
<path d="M98.69999999999999,716 A114,15 0 0 0 326.7,716"  stroke-width="2.22"/>
<path d="M190,708 L190,685 C196,682.5 230,682.5 236.3,685 L236.3,708 C238,710 240,711 241,712.5 C236,716 190,716 184.5,712.5 C186,711 188,710 190,708 Z" fill="#fff"  stroke-width="2.22"/>
<path d="M190,708 C200,710 226,710 236.3,708" fill="none" stroke-width="1.80" />
<path d="M195.5,686 C204,688 221,688 229.6,686" fill="none" stroke-width="1.80" />
<ellipse cx="212.5" cy="787" rx="113.5" ry="20.6" fill="none"  stroke-width="2.22"/>
<path d="M109,787 C140,775 285,775 315.5,787 C285,800 140,800 109,787 Z" fill="none"  stroke-width="2.22"/>
<line x1="91.6" y1="991" x2="91.6" y2="1021.3"  stroke-width="2.22"/>
<line x1="328" y1="991" x2="328" y2="1021.3"  stroke-width="2.22"/>
<path d="M91.60000000000001,1021.3 A118.2,15.5 0 0 0 328.0,1021.3"  stroke-width="2.22"/>
<path d="M91.60000000000001,991 A118.2,14 0 0 0 328.0,991"  stroke-width="2.22"/>
<line x1="66" y1="947.3" x2="91.6" y2="991"  stroke-width="2.22"/>
<line x1="353" y1="947.3" x2="328" y2="991"  stroke-width="2.22"/>
<path d="M66.0,947 A143.5,17 0 0 0 353.0,947"  stroke-width="2.22"/>
<path d="M68.5,950 A141,17.4 0 0 0 350.5,950" stroke-width="1.95" />
<line x1="66" y1="856" x2="66" y2="947.3"  stroke-width="2.22"/>
<line x1="353" y1="856" x2="353" y2="947.3"  stroke-width="2.22"/>
<path d="M51.2,844 L51.2,850 A158,26 0 0 0 367.2,850 L367.2,844" fill="#fff"  stroke-width="2.22"/>
<ellipse cx="209.2" cy="844" rx="158" ry="25.3" fill="#fff"  stroke-width="2.22"/>
<ellipse cx="209.2" cy="845" rx="155" ry="23" fill="none" stroke-width="1.95" />
<ellipse cx="209" cy="844.7" rx="140" ry="14.5" fill="none" stroke-width="2.40" />
<ellipse cx="209" cy="845.5" rx="136" ry="13" fill="none" stroke-width="1.80" />
<line x1="215.4" y1="160" x2="214.8" y2="230.5" stroke-width="1.95" />
<line x1="214.7" y1="246" x2="214.6" y2="261.6" stroke-width="1.95" />
<line x1="214.5" y1="275.7" x2="213.8" y2="352" stroke-width="1.95" />
<line x1="213.7" y1="365" x2="213.6" y2="378" stroke-width="1.95" />
<line x1="213.5" y1="392" x2="211.9" y2="590" stroke-width="1.95" />
<line x1="211.8" y1="606" x2="211.7" y2="622.5" stroke-width="1.95" />
<line x1="211.5" y1="637" x2="210.9" y2="711" stroke-width="1.95" />
<line x1="210.8" y1="727" x2="210.0" y2="832" stroke-width="1.95" />
<line x1="209.8" y1="847" x2="209.8" y2="856" stroke-width="1.95" />
<line x1="209.6" y1="879" x2="209.0" y2="949.6" stroke-width="1.95" />
<path d="M71.5,850.5 L69.4,849.5 L67.6,848.2 L66.1,846.5 L64.9,844.7 L64.2,842.6 L64.0,840.5 L64.2,838.4 L64.9,836.3 L66.1,834.5 L67.6,832.8 L69.4,831.5 L71.5,830.5" fill="none" stroke-width="1.65" />
<path d="M73.0,847.2 L71.6,846.5 L70.4,845.6 L69.4,844.5 L68.6,843.3 L68.2,841.9 L68.0,840.5 L68.2,839.1 L68.6,837.7 L69.4,836.5 L70.4,835.4 L71.6,834.5 L73.0,833.8" fill="none" stroke-width="1.65" />
<path d="M74.3,844.3 L73.5,843.9 L72.8,843.4 L72.3,842.8 L71.8,842.1 L71.6,841.3 L71.5,840.5 L71.6,839.7 L71.8,838.9 L72.3,838.2 L72.8,837.6 L73.5,837.1 L74.3,836.7" fill="none" stroke-width="1.65" />
<path d="M353.1,831.3 L355.0,832.2 L356.7,833.5 L358.1,835.0 L359.2,836.7 L359.8,838.6 L360.0,840.5 L359.8,842.4 L359.2,844.3 L358.1,846.0 L356.7,847.5 L355.0,848.8 L353.1,849.7" fill="none" stroke-width="1.65" />
<path d="M351.8,834.2 L353.1,834.9 L354.3,835.7 L355.2,836.7 L355.9,837.9 L356.4,839.2 L356.5,840.5 L356.4,841.8 L355.9,843.1 L355.2,844.3 L354.3,845.3 L353.1,846.1 L351.8,846.8" fill="none" stroke-width="1.65" />
<path d="M350.5,837.2 L351.2,837.5 L351.8,837.9 L352.3,838.5 L352.7,839.1 L352.9,839.8 L353.0,840.5 L352.9,841.2 L352.7,841.9 L352.3,842.5 L351.8,843.1 L351.2,843.5 L350.5,843.8" fill="none" stroke-width="1.65" />
<line x1="215.4" y1="160" x2="214.8" y2="230.5" stroke-width="1.95" />
<line x1="214.7" y1="246" x2="214.6" y2="261.6" stroke-width="1.95" />
<line x1="214.5" y1="275.7" x2="213.8" y2="352" stroke-width="1.95" />
<line x1="213.7" y1="365" x2="213.6" y2="378" stroke-width="1.95" />
<line x1="213.5" y1="392" x2="211.9" y2="590" stroke-width="1.95" />
<line x1="211.8" y1="606" x2="211.7" y2="622.5" stroke-width="1.95" />
<line x1="211.5" y1="637" x2="210.9" y2="711" stroke-width="1.95" />
<line x1="210.8" y1="727" x2="210.0" y2="832" stroke-width="1.95" />
<line x1="209.8" y1="847" x2="209.8" y2="856" stroke-width="1.95" />
<line x1="209.6" y1="879" x2="209.0" y2="949.6" stroke-width="1.95" />
<path d="M75.2,850.5 L72.9,850.0 L70.8,849.0 L69.0,847.6 L67.6,845.8 L66.8,843.7 L66.5,841.5 L66.8,839.3 L67.6,837.2 L69.0,835.4 L70.8,834.0 L72.9,833.0 L75.2,832.5" fill="none" stroke-width="1.65" />
<path d="M75.4,847.7 L73.9,847.3 L72.4,846.7 L71.2,845.7 L70.3,844.4 L69.7,843.0 L69.5,841.5 L69.7,840.0 L70.3,838.6 L71.2,837.3 L72.4,836.3 L73.9,835.7 L75.4,835.3" fill="none" stroke-width="1.65" />
<path d="M75.7,845.1 L74.8,844.9 L73.9,844.5 L73.2,843.9 L72.7,843.2 L72.3,842.4 L72.2,841.5 L72.3,840.6 L72.7,839.8 L73.2,839.1 L73.9,838.5 L74.8,838.1 L75.7,837.9" fill="none" stroke-width="1.65" />
<path d="M349.9,830.1 L352.4,830.6 L354.8,831.7 L356.7,833.3 L358.2,835.3 L359.2,837.6 L359.5,840.0 L359.2,842.4 L358.2,844.7 L356.7,846.7 L354.8,848.3 L352.4,849.4 L349.9,849.9" fill="none" stroke-width="1.65" />
<path d="M349.6,833.4 L351.3,833.7 L352.8,834.4 L354.2,835.5 L355.2,836.8 L355.8,838.4 L356.0,840.0 L355.8,841.6 L355.2,843.2 L354.2,844.5 L352.8,845.6 L351.3,846.3 L349.6,846.6" fill="none" stroke-width="1.65" />
<path d="M349.3,836.2 L350.3,836.4 L351.2,836.8 L351.9,837.4 L352.5,838.2 L352.9,839.1 L353.0,840.0 L352.9,840.9 L352.5,841.8 L351.9,842.6 L351.2,843.2 L350.3,843.6 L349.3,843.8" fill="none" stroke-width="1.65" />
<path d="M632.7,303 L632.7,325 A106,41.5 0 0 0 844.6,325 L844.6,301.5" fill="#fff"  stroke-width="2.22"/>
<path d="M632.6,303 A106,38 0 0 0 844.6,303"  stroke-width="2.22"/>
<path d="M609.3,225 L609.3,262 C609.3,300 680,320 738,320 C790,320 835,302 856,278 L870,240 L875,200 Z" fill="#fff" stroke="none" stroke-width="2.22"/>
<path d="M609.3,225 L609.3,262.6 C612,273 618,283 625,289.3 C650,310 700,320 738,320 C790,320 835,302 856,278" fill="none"  stroke-width="2.22"/>
<circle cx="598" cy="259" r="0.9" fill="#000" stroke-width="1.20"/>
<circle cx="627" cy="254.4" r="0.9" fill="#000" stroke-width="1.20"/>
<path d="M584,155 L584,190 A150.5,71 0 0 0 885,190 L885,155" fill="#fff"  stroke-width="2.22"/>
<ellipse cx="734.5" cy="155" rx="150.5" ry="71" fill="#fff"  stroke-width="2.22"/>
<ellipse cx="734.5" cy="160" rx="148" ry="67" fill="none" stroke-width="1.95" />
<ellipse cx="734" cy="160" rx="132" ry="58" fill="none" stroke-width="2.25" />
<ellipse cx="736" cy="160" rx="128" ry="50" fill="none" stroke-width="2.10" />
<ellipse cx="736" cy="161.5" rx="125" ry="48" fill="none" stroke-width="1.80" />
<path d="M628.6,97 L628.6,121.5 A105,53 0 0 0 838.6,121.5 L838.6,97" fill="#fff"  stroke-width="2.22"/>
<ellipse cx="733.6" cy="97" rx="105" ry="52" fill="#fff"  stroke-width="2.22"/>
<ellipse cx="733.6" cy="98.5" rx="101" ry="49" fill="none" stroke-width="1.95" />
<path d="M643.6,112.6 L645.1,110.3 L647.0,108.0 L649.4,105.7 L652.1,103.6 L655.2,101.5 L658.6,99.4 L662.4,97.5 L666.5,95.7 L671.0,94.0 L675.7,92.4 L680.7,91.0 L685.9,89.6 L691.4,88.5 L697.1,87.4 L702.9,86.5 L708.9,85.8 L714.9,85.2 L721.1,84.8 L727.3,84.6 L733.6,84.5 L739.9,84.6 L746.1,84.8 L752.3,85.2 L758.3,85.8 L764.3,86.5 L770.1,87.4 L775.8,88.5 L781.3,89.6 L786.5,91.0 L791.5,92.4 L796.2,94.0 L800.7,95.7 L804.8,97.5 L808.6,99.4 L812.0,101.5 L815.1,103.6 L817.8,105.7 L820.2,108.0 L822.1,110.3 L823.6,112.6" fill="none" stroke-width="2.10" />
<path d="M646.7,119.1 L648.4,117.4 L650.5,115.8 L652.9,114.2 L655.7,112.6 L658.8,111.2 L662.2,109.7 L665.9,108.4 L670.0,107.1 L674.3,105.9 L678.8,104.8 L683.6,103.8 L688.6,102.9 L693.8,102.1 L699.2,101.3 L704.7,100.7 L710.3,100.2 L716.0,99.8 L721.9,99.5 L727.7,99.4 L733.6,99.3 L739.5,99.4 L745.3,99.5 L751.2,99.8 L756.9,100.2 L762.5,100.7 L768.0,101.3 L773.4,102.1 L778.6,102.9 L783.6,103.8 L788.4,104.8 L792.9,105.9 L797.2,107.1 L801.3,108.4 L805.0,109.7 L808.4,111.2 L811.5,112.6 L814.3,114.2 L816.7,115.8 L818.8,117.4 L820.5,119.1" fill="none" stroke-width="1.95" />
<path d="M656.5,122.0 L658.4,121.0 L660.5,120.0 L662.9,119.1 L665.6,118.2 L668.5,117.3 L671.7,116.5 L675.1,115.7 L678.7,114.9 L682.6,114.2 L686.6,113.6 L690.8,113.0 L695.1,112.5 L699.6,112.0 L704.2,111.6 L708.9,111.2 L713.8,110.9 L718.7,110.7 L723.6,110.5 L728.6,110.4 L733.6,110.4 L738.6,110.4 L743.6,110.5 L748.5,110.7 L753.4,110.9 L758.3,111.2 L763.0,111.6 L767.6,112.0 L772.1,112.5 L776.4,113.0 L780.6,113.6 L784.6,114.2 L788.5,114.9 L792.1,115.7 L795.5,116.5 L798.7,117.3 L801.6,118.2 L804.3,119.1 L806.7,120.0 L808.8,121.0 L810.7,122.0" fill="none" stroke-width="1.95" />
<path d="M662.9,123.8 L664.9,123.0 L667.1,122.1 L669.5,121.3 L672.1,120.5 L675.0,119.8 L678.0,119.1 L681.2,118.4 L684.5,117.8 L688.0,117.2 L691.7,116.7 L695.5,116.2 L699.4,115.7 L703.4,115.3 L707.6,115.0 L711.8,114.7 L716.1,114.4 L720.4,114.2 L724.8,114.1 L729.2,114.0 L733.6,114.0 L738.0,114.0 L742.4,114.1 L746.8,114.2 L751.1,114.4 L755.4,114.7 L759.6,115.0 L763.8,115.3 L767.8,115.7 L771.7,116.2 L775.5,116.7 L779.2,117.2 L782.7,117.8 L786.0,118.4 L789.2,119.1 L792.2,119.8 L795.1,120.5 L797.7,121.3 L800.1,122.1 L802.3,123.0 L804.3,123.8" fill="none" stroke-width="1.80" />
<ellipse cx="737.8" cy="131.4" rx="32.8" ry="10" fill="#fff" stroke-width="2.10" />
<ellipse cx="737" cy="134" rx="22" ry="6.5" fill="none" stroke-width="1.80" />
<path d="M728,146 C728,139 744,139 746,146" fill="none" stroke-width="1.95" />
<path d="M690,139 L706,133 M770,133 L788,138" fill="none" stroke-width="1.80" />
<path d="M684,223.5 C688,222 692,223 692,226 C692,229 688,230 686.4,229" fill="#fff" stroke-width="1.95" />
<path d="M770,224.7 C768,221 772,219.5 775,220.5 C777,222 777,226 773,227" fill="#fff" stroke-width="1.95" />
<path d="M686.4,222 L686.4,258 L715.5,258 L715.5,218.5 L689,218.5 Z" fill="#fff" stroke-width="2.25" />
<ellipse cx="701" cy="238.4" rx="7.7" ry="5.5" fill="none" stroke-width="2.10" />
<line x1="712.5" y1="218.5" x2="712.5" y2="250.5" stroke-width="1.80" />
<line x1="689" y1="250" x2="715" y2="250" stroke-width="2.10" />
<path d="M687.4,258 L714.5,258 L714.5,288.2 L687.4,288.2 Z" fill="#fff" stroke-width="2.25" />
<line x1="687.4" y1="277.5" x2="714.5" y2="277.5" stroke-width="2.10" />
<path d="M689,262 C692,268 696,270 701,270 C706,270 710,267 712,262" fill="none" stroke-width="2.10" />
<line x1="686.4" y1="259.2" x2="715.5" y2="259.2" stroke-width="2.10" />
<path d="M715.5,217.6 L743.5,217.6 L743.5,248.5 L715.5,248.5 Z" fill="#fff" stroke-width="2.25" />
<line x1="717" y1="219.5" x2="742" y2="219.5" stroke-width="1.95" />
<line x1="717" y1="225.3" x2="742" y2="225.3" stroke-width="1.95" />
<line x1="717" y1="233" x2="742" y2="233" stroke-width="1.95" />
<line x1="717" y1="238.4" x2="742" y2="238.4" stroke-width="1.95" />
<line x1="717" y1="242.2" x2="742" y2="242.2" stroke-width="1.95" />
<line x1="717" y1="247.6" x2="742" y2="247.6" stroke-width="1.95" />
<path d="M713.5,250.5 L730,250.5 L730,266 L713.5,266 Z" fill="#fff" stroke-width="2.10" />
<path d="M730,249.5 L743.5,249.5 L743.5,267.9 L730,267.9 Z" fill="#fff" stroke-width="2.25" />
<path d="M743.5,217.6 L766,218.5 L770,222 L771,288 L746,288 C744,288 743.5,286 743.5,284 Z" fill="#fff" stroke-width="2.25" />
<line x1="744.5" y1="218" x2="744.5" y2="250.5" stroke-width="1.95" />
<line x1="747.4" y1="218" x2="747.4" y2="250.5" stroke-width="1.80" />
<line x1="743.5" y1="250.5" x2="771" y2="250.5" stroke-width="2.10" />
<line x1="743.5" y1="260" x2="771" y2="260" stroke-width="2.10" />
<line x1="743.5" y1="267.7" x2="771" y2="267.7" stroke-width="1.95" />
<line x1="743.5" y1="277.9" x2="771" y2="277.9" stroke-width="2.10" />
<line x1="743.5" y1="249.5" x2="743.5" y2="288" stroke-width="2.25" />
<path d="M772.9,241.1 L830,233.4 L864.7,234 C869,234 870,238 870,241 L870,275 C870,279 868,281.7 864,281.7 L831.7,281.7 L775.8,275 C772,273 771,262 772,250 C772,246 772.3,243 772.9,241.1 Z" fill="#fff" stroke-width="2.25" />
<path d="M775.8,244 C778,250 778,268 775.8,275" fill="none" stroke-width="1.95" />
<ellipse cx="841" cy="247.4" rx="18" ry="7.5" fill="none" stroke-width="2.25" />
<ellipse cx="841" cy="247.4" rx="20.5" ry="9.3" fill="none" stroke-width="1.80" />
<path d="M775.8,245 L812.5,253.7 L831.7,271 L860.8,271" fill="none" stroke-width="2.10" />
<path d="M775.8,265.3 L802.9,258.5 M775.8,269 L802.9,276" fill="none" stroke-width="1.95" />
<line x1="801.9" y1="258.5" x2="801.9" y2="276" stroke-width="1.95" />
<line x1="815.4" y1="262" x2="815.4" y2="279" stroke-width="1.95" />
<line x1="831.7" y1="271" x2="831.7" y2="281.7" stroke-width="1.95" />
<line x1="860.8" y1="271" x2="860.8" y2="281.7" stroke-width="1.95" />
<path d="M812.5,253.7 L830,269.2" fill="none" stroke-width="1.80" />
<path d="M862,238 C866,250 866,265 861,275" fill="none" stroke-width="1.65" />
<line x1="735.5" y1="81.4" x2="736.2" y2="124" stroke-width="1.95" />
<line x1="736.4" y1="136.3" x2="736.7" y2="154" stroke-width="1.95" />
<line x1="736.9" y1="170" x2="737.9" y2="228.5" stroke-width="1.95" />
<line x1="738.2" y1="249.8" x2="738.7" y2="278" stroke-width="1.95" />
<line x1="738.8" y1="288.8" x2="739.4" y2="327.8" stroke-width="1.95" />
<line x1="850" y1="281.7" x2="844.6" y2="301.5" stroke-width="2.10" />
<path d="M727.6,550.7 L650.0,603.3 A150.3,150.3 0 0 0 688.5,870.5 Q692.2,871.5 692.2,878 L692.2,925.2 L720.6,925.2 L720.6,866.4 L749,866.4 L749,925.2 L777.3,925.2 L777.3,878 Q777.3,871.5 781.0,870.5 A150.3,150.3 0 0 0 819.4,603.3 L742.8,550.7 A13.5,13.5 0 0 0 727.6,550.7 Z" fill="#fff" stroke-width="1.68" />
<path d="M695.5,880 Q695.5,869.4 691.0,867.4 A146.6,146.6 0 0 1 651.8,606.6 L729.5,553.7 A10,10 0 0 1 744.9,561.9 C745,570 741,579 734.7,585.6 C729,591 720,596 706,600" fill="none" stroke-width="1.47" />
<path d="M748.3,557 C749,568 745,578 737.6,587 C732,592 724,597 714,600.5" fill="none" stroke-width="1.47" />
<path d="M774,880 Q774,869.4 778.5,867.4 A146.6,146.6 0 0 0 817.6,606.6 L765.5,569.5 C762,565.5 758.5,565.5 756,568.5 L744.3,586.6 C743.5,591 746,595 754,597.5" fill="none" stroke-width="1.47" />
<path d="M760,570.5 L748,588 C747.5,591 749.5,594 757,596.8" fill="none" stroke-width="1.37" />
<path d="M734.7,586.6 L743.6,586.6" fill="none" stroke-width="1.26" />
<ellipse cx="734.7" cy="728" rx="132.4" ry="129.5" fill="none" stroke-width="1.58" />
<ellipse cx="734.7" cy="728" rx="129.8" ry="126.5" fill="none" stroke-width="2.52" />
<ellipse cx="734.7" cy="728" rx="127" ry="124" fill="none" stroke-width="1.47" />
<path d="M766.6,648.7 L768.5,649.5 L770.4,650.4 L772.3,651.3 L774.1,652.2 L775.9,653.2 L777.7,654.2 L779.5,655.3 L781.3,656.4 L783.0,657.5 L784.7,658.7 L786.3,660.0 L787.9,661.2 L789.5,662.6 L791.1,663.9 L792.6,665.3 L794.1,666.7 L795.6,668.2 L797.0,669.7 L798.4,671.2 L799.8,672.8" fill="none" stroke-width="1.58" />
<path d="M764.2,670.7 L765.0,671.1 L765.9,671.6 L766.7,672.1 L767.5,672.6 L768.3,673.1 L769.2,673.6 L770.0,674.1 L770.8,674.6 L771.5,675.2 L772.3,675.7 L773.1,676.3 L773.9,676.9 L774.6,677.5 L775.3,678.1 L776.1,678.7 L776.8,679.3 L777.5,679.9 L778.2,680.6 L778.9,681.2 L779.6,681.9" fill="none" stroke-width="1.58" />
<path d="M819.5,733.5 L819.3,735.6 L819.1,737.6 L818.8,739.7 L818.5,741.7 L818.1,743.8 L817.7,745.8 L817.2,747.8 L816.7,749.8 L816.2,751.8 L815.5,753.8 L814.9,755.7 L814.2,757.7 L813.4,759.6 L812.6,761.5 L811.8,763.4 L810.9,765.3 L809.9,767.1 L808.9,768.9 L807.9,770.7 L806.8,772.5" fill="none" stroke-width="1.58" />
<path d="M797.8,738.0 L797.7,738.9 L797.5,739.9 L797.3,740.8 L797.1,741.7 L796.9,742.7 L796.6,743.6 L796.4,744.5 L796.1,745.4 L795.9,746.4 L795.6,747.3 L795.3,748.2 L794.9,749.1 L794.6,750.0 L794.3,750.9 L793.9,751.8 L793.5,752.7 L793.2,753.5 L792.8,754.4 L792.4,755.3 L791.9,756.1" fill="none" stroke-width="1.58" />
<path d="M755.2,810.0 L753.2,810.5 L751.2,810.9 L749.1,811.3 L747.1,811.6 L745.0,811.9 L743.0,812.1 L740.9,812.3 L738.8,812.4 L736.8,812.5 L734.7,812.5 L732.6,812.5 L730.6,812.4 L728.5,812.3 L726.4,812.1 L724.4,811.9 L722.3,811.6 L720.3,811.3 L718.2,810.9 L716.2,810.5 L714.2,810.0" fill="none" stroke-width="1.58" />
<path d="M744.2,790.8 L743.3,790.9 L742.3,791.0 L741.4,791.1 L740.4,791.2 L739.5,791.3 L738.5,791.4 L737.6,791.4 L736.6,791.5 L735.7,791.5 L734.7,791.5 L733.7,791.5 L732.8,791.5 L731.8,791.4 L730.9,791.4 L729.9,791.3 L729.0,791.2 L728.0,791.1 L727.1,791.0 L726.1,790.9 L725.2,790.8" fill="none" stroke-width="1.58" />
<path d="M662.6,772.5 L661.5,770.7 L660.5,768.9 L659.5,767.1 L658.5,765.3 L657.6,763.4 L656.8,761.5 L656.0,759.6 L655.2,757.7 L654.5,755.7 L653.9,753.8 L653.2,751.8 L652.7,749.8 L652.2,747.8 L651.7,745.8 L651.3,743.8 L650.9,741.7 L650.6,739.7 L650.3,737.6 L650.1,735.6 L649.9,733.5" fill="none" stroke-width="1.58" />
<path d="M677.5,756.1 L677.0,755.3 L676.6,754.4 L676.2,753.5 L675.9,752.7 L675.5,751.8 L675.1,750.9 L674.8,750.0 L674.5,749.1 L674.1,748.2 L673.8,747.3 L673.5,746.4 L673.3,745.4 L673.0,744.5 L672.8,743.6 L672.5,742.7 L672.3,741.7 L672.1,740.8 L671.9,739.9 L671.7,738.9 L671.6,738.0" fill="none" stroke-width="1.58" />
<path d="M669.6,672.8 L671.0,671.2 L672.4,669.7 L673.8,668.2 L675.3,666.7 L676.8,665.3 L678.3,663.9 L679.9,662.6 L681.5,661.2 L683.1,660.0 L684.7,658.7 L686.4,657.5 L688.1,656.4 L689.9,655.3 L691.7,654.2 L693.5,653.2 L695.3,652.2 L697.1,651.3 L699.0,650.4 L700.9,649.5 L702.8,648.7" fill="none" stroke-width="1.58" />
<path d="M689.8,681.9 L690.5,681.2 L691.2,680.6 L691.9,679.9 L692.6,679.3 L693.3,678.7 L694.1,678.1 L694.8,677.5 L695.5,676.9 L696.3,676.3 L697.1,675.7 L697.9,675.2 L698.6,674.6 L699.4,674.1 L700.2,673.6 L701.1,673.1 L701.9,672.6 L702.7,672.1 L703.5,671.6 L704.4,671.1 L705.2,670.7" fill="none" stroke-width="1.58" />
<clipPath id="c3clip"><circle cx="734.7" cy="727.5" r="101.5"/></clipPath>
<g clip-path="url(#c3clip)">
<circle cx="734.7" cy="656.3" r="32.8" fill="#fff" stroke-width="1.68"/>
<circle cx="802.4" cy="705.5" r="32.8" fill="#fff" stroke-width="1.68"/>
<circle cx="776.6" cy="785.1" r="32.8" fill="#fff" stroke-width="1.68"/>
<circle cx="692.8" cy="785.1" r="32.8" fill="#fff" stroke-width="1.68"/>
<circle cx="667.0" cy="705.5" r="32.8" fill="#fff" stroke-width="1.68"/>
</g>
<circle cx="734.7" cy="727.5" r="104.6" stroke-width="1.68"/>
<circle cx="734.7" cy="727.5" r="100.4" stroke-width="1.58"/>
<circle cx="734.7" cy="727.5" r="23.5" stroke-width="1.37"/>
<circle cx="734.7" cy="727.5" r="18.5" stroke-width="1.37"/>
<circle cx="734.7" cy="727.5" r="15.3" stroke-width="1.78"/>
<circle cx="734.7" cy="727.5" r="7.4" stroke-width="1.37"/>
<circle cx="735.2" cy="561.9" r="7.8" fill="#fff" stroke-width="1.58"/>
<circle cx="735.2" cy="561.9" r="2.6" stroke-width="1.47"/>
<line x1="716.7" y1="856" x2="716.7" y2="925.2" stroke-width="1.47" />
<line x1="752.8" y1="856" x2="752.8" y2="925.2" stroke-width="1.47" />
<line x1="716.7" y1="856" x2="752.8" y2="856" stroke-width="1.47" />
<circle cx="707.2" cy="903" r="7.7" fill="#fff" stroke-width="1.47"/>
<path d="M703.5,903 L707.2,899.5 L711,903 L707.2,906.5 Z" fill="none" stroke-width="1.16" />
<rect x="720.6" y="894.8" width="15.4" height="15.4" fill="#fff" stroke-width="1.37"/>
<rect x="736" y="893.5" width="11.6" height="19.3" fill="#fff" stroke-width="1.37"/>
<line x1="739" y1="893.5" x2="739" y2="912.8" stroke-width="1.16" />
<path d="M779.9,885.7 L814.7,885.7 L839.2,865.1 L868.8,865.1 C876,885 876,922 868.8,941.2 L839.2,941.2 L814.7,920.5 L779.9,920.5 Z" fill="#fff" stroke-width="1.58" />
<line x1="814.7" y1="885.7" x2="814.7" y2="920.5" stroke-width="1.37" />
<path d="M781.2,902.5 L814.7,888 M781.2,902.5 L814.7,918" fill="none" stroke-width="1.37" />
<circle cx="847.7" cy="903" r="20.6" fill="#fff" stroke-width="1.58"/>
<circle cx="847.7" cy="903" r="17.8" stroke-width="1.37"/>
<path d="M866,867 C872,885 872,922 866,939" fill="none" stroke-width="1.26" />
<line x1="735.3" y1="561.6" x2="735.3" y2="635.5" stroke-width="1.47" />
<line x1="735.3" y1="641.9" x2="735.3" y2="666" stroke-width="1.47" />
<line x1="735.3" y1="670.8" x2="735.3" y2="778.4" stroke-width="1.47" />
<line x1="735.3" y1="784.8" x2="735.3" y2="804" stroke-width="1.47" />
<line x1="735.3" y1="808.9" x2="735.3" y2="890.8" stroke-width="1.47" />
<line x1="573" y1="727.3" x2="652" y2="727.3" stroke-width="1.68" />
<line x1="666.5" y1="727.3" x2="683" y2="727.3" stroke-width="1.68" />
<line x1="697" y1="727.3" x2="772.7" y2="727.3" stroke-width="1.68" />
<line x1="787" y1="727.3" x2="803" y2="727.3" stroke-width="1.68" />
<line x1="816.5" y1="727.3" x2="897" y2="727.3" stroke-width="1.68" />
<line x1="762" y1="903" x2="779" y2="903" stroke-width="1.37" />
<line x1="789" y1="903" x2="812" y2="903" stroke-width="1.37" />
<line x1="818" y1="903" x2="839" y2="903" stroke-width="1.37" />
</g>
</svg>
</body></html>
